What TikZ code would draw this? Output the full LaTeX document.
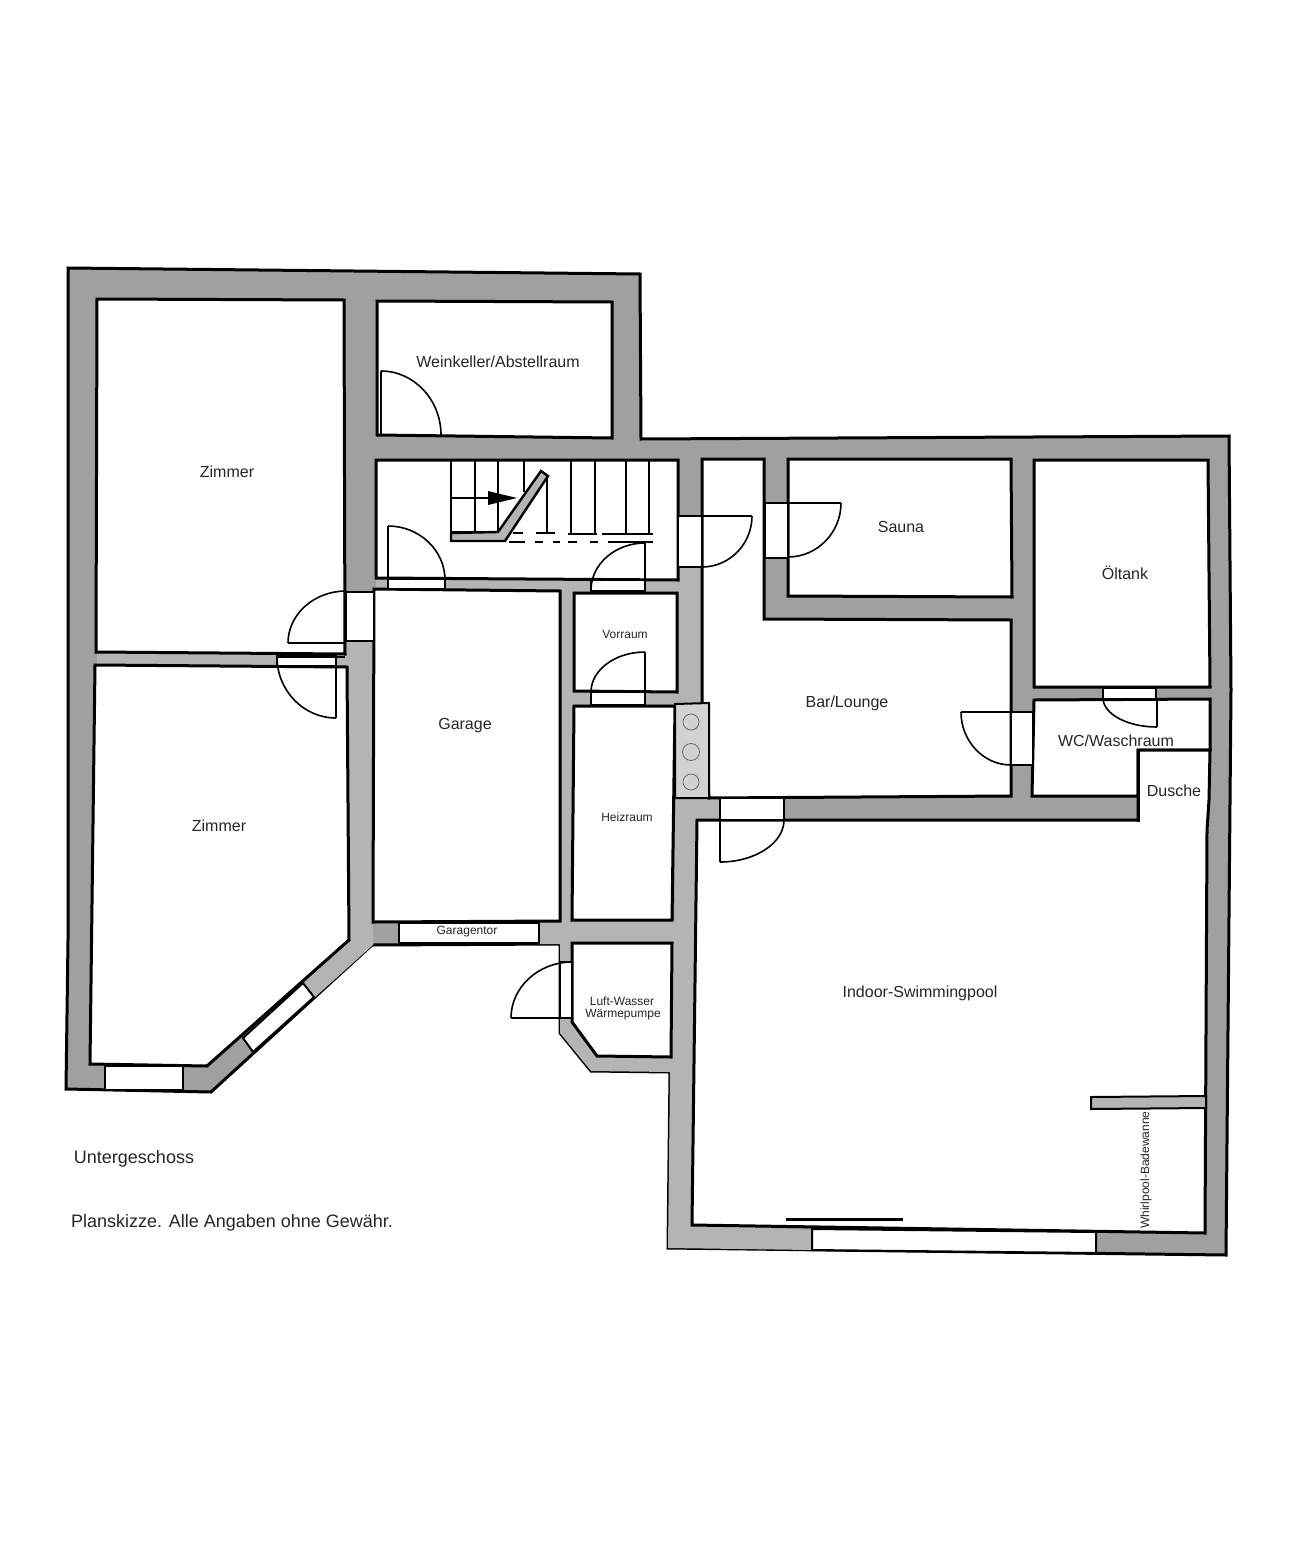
\documentclass[tikz,border=0pt]{standalone}
\usepackage{fontspec}
\setmainfont{Liberation Sans}
\usetikzlibrary{calc}
\definecolor{walldark}{HTML}{A0A0A0}
\definecolor{walllight}{HTML}{B4B4B4}
\definecolor{flue}{HTML}{D2D2D2}
\tikzset{
  outerwall/.style={fill=walldark,draw=black,line width=3pt,line join=miter},
  lightwall/.style={fill=walllight,draw=none},
  room/.style={fill=white,draw=black,line width=3pt,line join=miter},
  opening/.style={fill=white,draw=black,line width=1.4pt},
  leaf/.style={draw=black,line width=1.6pt},
  tread/.style={draw=black,line width=2.6pt},
  dashline/.style={draw=black,line width=2.6pt},
  big/.style={font=\fontsize{16}{18}\selectfont,text=black!85,inner sep=0pt},
  small/.style={font=\fontsize{12}{14}\selectfont,text=black!85,inner sep=0pt},
  note/.style={font=\fontsize{18}{20}\selectfont,text=black!85,inner sep=0pt},
}
\newcommand{\swing}[3]{\draw[leaf] (#1) .. controls ($(#1)!.55!(#3)$) and ($(#2)!.55!(#3)$) .. (#2);}
\begin{document}
\begin{tikzpicture}[x=1pt,y=-1pt]
\useasboundingbox (0,0) rectangle (1295,1568);
\fill[white] (0,0) rectangle (1295,1568);
% outer shell
\draw[outerwall] (68,268) -- (640,274) -- (641,439) -- (1229,436) -- (1231,690) -- (1226,1255) -- (668,1248) -- (670,1072) -- (591,1071) -- (560,1033) -- (560,944) -- (372,945) -- (211,1092) -- (66,1089) -- (68,940) -- cycle;
% lighter wall parts
\fill[lightwall] (347,641) -- (373,641) -- (373,945) -- (314,998) -- (303,984) -- (349,940) -- cycle;
\fill[lightwall] (376,578) -- (678,580) -- (678,592) -- (376,590) -- cycle;
\fill[lightwall] (560,590) -- (574,590) -- (574,922) -- (560,922) -- cycle;
\fill[lightwall] (678,567) -- (702,567) -- (702,704) -- (574,704) -- (574,691) -- (678,691) -- cycle;
\fill[lightwall] (539,922) -- (675,922) -- (675,798) -- (720,798) -- (720,820) -- (697,820) -- (692,1225) -- (812,1230) -- (812,1250) -- (668,1248) -- (670,1072) -- (591,1071) -- (560,1033) -- (560,944) -- (539,944) -- cycle;
\fill[walllight] (97,652) rectangle (347,666);
% rooms
\draw[room] (97,299) -- (344,300) -- (345,654) -- (96,652) -- cycle;
\draw[room] (95,665) -- (347,667) -- (349,940) -- (207,1066) -- (90,1064) -- cycle;
\draw[room] (377,301) -- (612,302) -- (612,438) -- (377,435) -- cycle;
\draw[room] (376,460) -- (678,460) -- (678,580) -- (376,578) -- cycle;
\draw[room] (374,589) -- (560,591) -- (560,921) -- (373,922) -- cycle;
\draw[room] (574,593) -- (677,593) -- (677,692) -- (574,691) -- cycle;
\draw[room] (574,706) -- (675,706) -- (672,920) -- (572,920) -- cycle;
\draw[room] (572,943) -- (672,943) -- (671,1057) -- (597,1056) -- (572,1022) -- cycle;
\draw[room] (702,459) -- (764,459) -- (764,619) -- (1011,620) -- (1011,796) -- (709,798) -- (702,703) -- cycle;
\draw[room] (788,459) -- (1011,459) -- (1012,597) -- (788,596) -- cycle;
\draw[room] (1034,460) -- (1208,460) -- (1210,687) -- (1034,687) -- cycle;
\draw[room] (1034,700) -- (1210,699) -- (1210,750) -- (1138,750) -- (1138,796) -- (1032,796) -- cycle;
\draw[room] (697,820) -- (1138,820) -- (1138,750) -- (1210,750) -- (1209,800) -- (1207,830) -- (1205,1233) -- (692,1225) -- cycle;
\fill[white] (1136.5,752) rectangle (1139.5,818);
\draw[line width=3pt] (1138,750) -- (1138,822);
% flue block
\draw[fill=flue,draw=black,line width=2pt] (675,704) -- (709,703) -- (709,798) -- (675,798) -- cycle;
\draw[draw=black!60,line width=.8pt] (691,722) circle[radius=8];
\draw[draw=black!60,line width=.8pt] (691,752) circle[radius=8.5];
\draw[draw=black!60,line width=.8pt] (691,782) circle[radius=8];
% whirlpool partition and sliding door bar
\draw[fill=walllight,draw=black,line width=2pt] (1091,1097) -- (1206,1096) -- (1206,1108) -- (1091,1109) -- cycle;
\draw[line width=3pt] (786,1219) -- (903,1219);
% windows and garage gate
\draw[opening,line width=2pt] (105,1066) rectangle (183,1090);
\draw[opening,line width=2pt] (243,1038) -- (253,1052) -- (314,997) -- (303,983) -- cycle;
\draw[opening,line width=2pt] (399,923) rectangle (539,943);
\draw[opening,line width=2pt] (812,1229) -- (1096,1232) -- (1096,1253) -- (812,1250) -- cycle;
% door openings
\draw[opening] (346,592) rectangle (374,641);
\draw[opening] (277,655) rectangle (336,666);
\draw[opening] (388,579) rectangle (445,589);
\draw[opening] (591,580) rectangle (645,591);
\draw[opening] (591,692) rectangle (645,705);
\draw[opening] (678,516) rectangle (702,567);
\draw[opening] (765,503) rectangle (788,558);
\draw[opening] (1011,712) rectangle (1033,765);
\draw[opening] (1103,688) rectangle (1156,699);
\draw[opening] (720,798) rectangle (784,820);
\draw[opening] (560,962) rectangle (572,1018);
% door leaves
\draw[leaf] (381,371) -- (381,435);
\swing{381,371}{441,435}{441,371}
\draw[leaf] (388,526) -- (388,589);
\swing{388,526}{445,580}{445,526}
\draw[leaf] (645,543) -- (645,591);
\swing{645,543}{591,590}{591,543}
\draw[leaf] (645,652) -- (645,705);
\swing{645,652}{591,692}{591,652}
\draw[leaf] (288,643) -- (346,643);
\swing{288,643}{346,591}{288,591}
\draw[leaf] (277,657) -- (345,657);
\draw[leaf] (336,657) -- (336,718);
\swing{277,657}{336,718}{277,718}
\draw[leaf] (678,516) -- (752,516);
\swing{752,516}{702,567}{752,567}
\draw[leaf] (788,503) -- (841,503);
\swing{841,503}{788,557}{841,557}
\draw[leaf] (961,712) -- (1011,712);
\swing{961,712}{1011,765}{961,765}
\draw[leaf] (1157,698) -- (1157,727);
\swing{1157,727}{1103,698}{1103,727}
\draw[leaf] (720,820) -- (720,862);
\swing{720,862}{784,820}{784,862}
\draw[leaf] (511,1018) -- (572,1018);
\swing{511,1018}{572,962}{511,962}
% stairs
\draw[tread] (451,460) -- (451,534);
\draw[tread] (475,460) -- (475,533);
\draw[tread] (498,460) -- (498,533);
\draw[tread] (524,460) -- (524,492);
\draw[tread] (547,475) -- (547,534);
\draw[tread] (571,460) -- (571,534);
\draw[tread] (595,460) -- (595,534);
\draw[tread] (626,460) -- (626,534);
\draw[tread] (649,460) -- (649,534);
\draw[tread] (451,498) -- (490,498);
\draw[tread] (451,532) -- (498,532);
\fill[black] (488,491) -- (517,498) -- (488,505) -- cycle;
\draw[fill=walllight,draw=black,line width=2.4pt] (451,533) -- (498,532) -- (541,471) -- (548,476) -- (505,541) -- (451,541) -- cycle;
\draw[dashline] (513,533) -- (523,533);
\draw[dashline] (536,533) -- (555,533);
\draw[dashline] (568,534) -- (597,534);
\draw[dashline] (602,534) -- (653,534);
\draw[dashline] (509,542) -- (525,542);
\draw[dashline] (535,542) -- (543,542);
\draw[dashline] (553,542) -- (560,542);
\draw[dashline] (568,542) -- (577,542);
\draw[dashline] (590,542) -- (598,542);
\draw[dashline] (608,542) -- (653,542);
% labels
\node[big] (t1) at (498,362) {Weinkeller/Abstellraum};
\node[big] (t2) at (227,472) {Zimmer};
\node[big] (t3) at (219,826) {Zimmer};
\node[big] (t4) at (901,527) {Sauna};
\node[big] (t5) at (1125,573) {Öltank};
\node[small] (t6) at (625,634) {Vorraum};
\node[big] (t7) at (465,726) {Garage};
\node[big] (t8) at (847,703) {Bar/Lounge};
\node[big] (t9) at (1116,741) {WC/Waschraum};
\node[big] (t10) at (1174,791) {Dusche};
\node[small] (t11) at (627,817) {Heizraum};
\node[small] (t12) at (467,932) {Garagentor};
\node[small] (t13) at (622,1001) {Luft-Wasser};
\node[small] (t14) at (623,1015) {Wärmepumpe};
\node[big] (t15) at (920,993) {Indoor-Swimmingpool};
\node[small,rotate=90] (t16) at (1146,1170) {Whirlpool-Badewanne};
\node[note] (t17) at (134,1159) {Untergeschoss};
\node[note] (t18) at (232,1223) {Planskizze. Alle Angaben ohne Gewähr.};
\end{tikzpicture}
\end{document}
